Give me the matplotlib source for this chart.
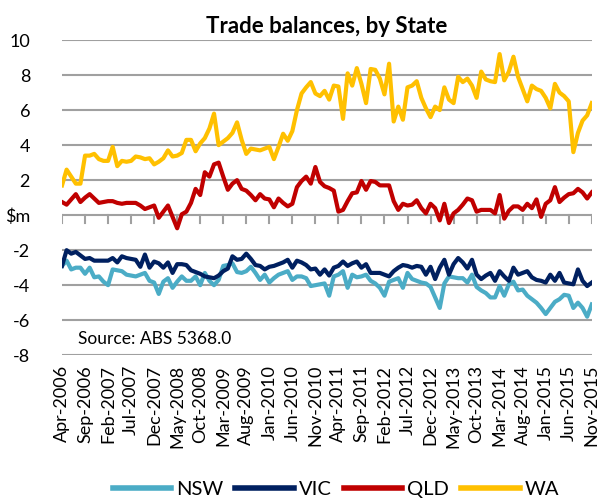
import matplotlib

matplotlib.use("Agg")
import matplotlib.pyplot as plt  # noqa: E402
import numpy as np

plt.rcParams["font.family"] = ["Lato", "DejaVu Sans"]

months = ["Apr-2006", "Sep-2006", "Feb-2007", "Jul-2007", "Dec-2007", "May-2008",
          "Oct-2008", "Mar-2009", "Aug-2009", "Jan-2010", "Jun-2010", "Nov-2010",
          "Apr-2011", "Sep-2011", "Feb-2012", "Jul-2012", "Dec-2012", "May-2013",
          "Oct-2013", "Mar-2014", "Aug-2014", "Jan-2015", "Jun-2015", "Nov-2015"]

# monthly balances, $bn, Apr-2006 .. Nov-2015
nsw = [-2.9, -2.6, -3.1, -3.0, -3.0, -3.35, -3.0, -3.55, -3.5, -3.8,
       -4.0, -3.1, -3.15, -3.2, -3.4, -3.45, -3.5, -3.4, -3.3, -3.75,
       -3.85, -4.5, -3.8, -3.6, -4.15, -3.8, -3.5, -3.75, -3.75, -3.5,
       -4.0, -3.3, -3.75, -4.0, -3.7, -2.9, -2.85, -2.75, -3.25, -3.3,
       -3.2, -2.95, -3.3, -3.7, -3.4, -3.85, -3.6, -3.4, -3.3, -3.2,
       -3.7, -3.5, -3.5, -3.6, -4.05, -4.0, -3.95, -3.9, -4.6, -3.5,
       -3.4, -3.2, -4.15, -3.4, -3.55, -3.5, -3.4, -3.75, -3.9, -4.15,
       -4.6, -3.8, -3.7, -3.6, -4.15, -3.3, -3.65, -3.75, -3.85, -3.9,
       -4.1, -4.7, -5.3, -3.9, -3.5, -3.55, -3.6, -3.6, -3.85, -3.4,
       -4.1, -4.3, -4.45, -4.7, -4.7, -4.05, -4.6, -3.95, -3.8, -4.3,
       -4.25, -4.6, -4.8, -5.0, -5.3, -5.65, -5.3, -4.95, -4.8, -4.55,
       -4.6, -5.3, -5.0, -5.3, -5.8, -5.1]
vic = [-2.9, -2.0, -2.2, -2.1, -2.3, -2.5, -2.45, -2.6, -2.6, -2.6,
       -2.6, -2.45, -2.7, -2.35, -2.45, -2.5, -2.55, -2.95, -2.25, -3.0,
       -2.65, -2.75, -3.0, -2.7, -3.3, -2.8, -2.8, -2.85, -3.15, -3.25,
       -3.35, -3.5, -3.55, -3.6, -3.45, -3.2, -3.05, -2.35, -2.55, -2.5,
       -2.2, -2.5, -2.85, -2.9, -3.1, -2.95, -2.9, -2.8, -2.7, -2.55,
       -3.0, -2.6, -2.7, -2.85, -3.1, -3.05, -3.4, -3.1, -3.45, -3.0,
       -2.9, -2.65, -2.9, -2.75, -2.65, -3.0, -2.8, -3.3, -3.3, -3.3,
       -3.4, -3.5, -3.2, -3.0, -2.85, -2.9, -3.0, -2.9, -2.95, -3.4,
       -2.95, -3.65, -3.0, -2.55, -3.4, -2.8, -2.45, -2.7, -3.05, -2.55,
       -3.4, -3.65, -3.45, -3.3, -3.75, -3.2, -3.5, -3.75, -3.0, -3.4,
       -3.3, -3.2, -3.55, -3.7, -3.75, -3.85, -3.4, -3.75, -3.3, -3.85,
       -3.9, -3.95, -3.1, -3.75, -4.05, -3.85]
qld = [0.75, 0.6, 0.9, 1.2, 0.75, 1.0, 1.2, 0.95, 0.7, 0.75,
       0.8, 0.8, 0.7, 0.65, 0.7, 0.7, 0.7, 0.55, 0.35, 0.45,
       0.55, -0.15, 0.2, 0.55, -0.1, -0.75, 0.05, 0.2, 0.7, 1.5,
       1.15, 2.45, 2.2, 2.9, 3.0, 2.2, 1.45, 1.8, 2.0, 1.5,
       1.4, 1.15, 0.85, 1.2, 0.95, 0.9, 0.45, 0.95, 0.7, 0.5,
       0.65, 1.6, 1.95, 2.2, 1.8, 2.75, 1.9, 1.65, 1.55, 1.4,
       0.2, 0.3, 0.8, 1.25, 1.3, 1.95, 1.45, 1.95, 1.9, 1.7,
       1.7, 1.7, 0.8, 0.3, 0.65, 0.55, 0.6, 0.85, 0.4, 0.1,
       0.65, 0.4, -0.3, 0.65, -0.45, 0.1, 0.3, 0.6, 0.95, 0.85,
       0.2, 0.3, 0.3, 0.3, 0.1, 1.15, -0.2, 0.25, 0.5, 0.5,
       0.3, 0.65, 0.4, 0.9, -0.1, 0.65, 0.85, 1.6, 0.75, 1.0,
       1.2, 1.25, 1.5, 1.3, 0.95, 1.3]
wa = [1.7, 2.6, 2.2, 1.8, 1.8, 3.4, 3.4, 3.5, 3.2, 3.1,
      3.1, 3.9, 2.8, 3.1, 3.05, 3.1, 3.35, 3.3, 3.2, 3.25,
      2.9, 3.05, 3.25, 3.7, 3.35, 3.4, 3.55, 4.3, 4.3, 3.65,
      4.1, 4.4, 4.95, 5.8, 4.0, 4.2, 4.4, 4.7, 5.3, 4.3,
      3.5, 3.8, 3.75, 3.7, 3.8, 3.9, 3.2, 3.9, 4.65, 4.25,
      4.8, 6.0, 6.95, 7.3, 7.6, 6.95, 6.8, 7.1, 6.6, 7.4,
      7.35, 5.5, 8.1, 7.4, 8.4, 7.5, 6.4, 8.35, 8.3, 7.8,
      6.9, 8.65, 5.35, 6.2, 5.45, 7.3, 7.4, 7.65, 6.7, 6.1,
      5.6, 6.2, 6.0, 7.3, 6.6, 6.4, 7.9, 7.6, 7.8, 7.4,
      6.7, 8.2, 7.75, 7.65, 7.6, 9.2, 7.7, 8.2, 9.05, 7.9,
      7.2, 6.5, 7.4, 7.2, 7.1, 6.7, 6.1, 7.5, 7.0, 6.8,
      6.5, 3.6, 4.7, 5.4, 5.7, 6.4]

series = [("NSW", nsw, "#4BACC6"), ("VIC", vic, "#002060"),
          ("QLD", qld, "#C00000"), ("WA", wa, "#FFC000")]

fig = plt.figure(figsize=(6.02, 5.01), dpi=100)
ax = fig.add_axes([0.103, 0.291, 0.88, 0.629])

x = np.arange(len(wa))
for name, vals, col in series:
    ax.plot(x, vals, color=col, lw=3.0, label=name, solid_joinstyle="round")

ax.set_xlim(0, len(wa) - 1)
ax.set_ylim(-8, 10)
yt = np.arange(-8, 11, 2)
ax.set_yticks(yt)
ax.set_yticklabels(["$m" if v == 0 else str(v) for v in yt])
for v in yt:
    ax.axhline(v, color="#A0A0A0", lw=1.5, zorder=0)

for s in ax.spines.values():
    s.set_visible(False)
ax.tick_params(axis="y", length=0, labelsize=13, pad=23)
ax.tick_params(axis="x", length=0, labelsize=13, pad=7)

# x labels sit below the bottom gridline, tick marks on the zero line
ax.set_xticks(x[::5])
ax.set_xticklabels(months, rotation=90)
for xv in x[::5]:
    ax.plot([xv, xv], [0, -0.45], color="#A0A0A0", lw=1.5, zorder=0)

ax.text(3.5, -7.1, "Source: ABS 5368.0", fontsize=12.5, va="center")
ax.set_title("Trade balances, by State", fontsize=16, fontweight="bold", pad=5)

leg = ax.legend(loc="center", bbox_to_anchor=(0.517, -0.425), ncol=4, frameon=False,
                fontsize=14.5, handlelength=2.9, handletextpad=0.25, columnspacing=0.6)
for h in leg.get_lines():
    h.set_linewidth(4.0)

fig.savefig("out.png", dpi=100)
